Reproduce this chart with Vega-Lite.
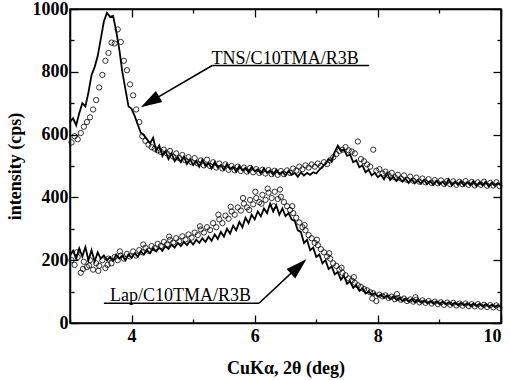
{
  "$schema": "https://vega.github.io/schema/vega-lite/v6.json",
  "width": 431,
  "height": 314,
  "autosize": "none",
  "padding": {"left": 70, "top": 9, "right": 9, "bottom": 57},
  "config": {
    "view": {"stroke": "black", "strokeWidth": 1.5},
    "axis": {
      "grid": false,
      "domainColor": "black",
      "domainWidth": 1.5,
      "tickColor": "black",
      "tickWidth": 1.3,
      "tickSize": -8,
      "labelColor": "black",
      "labelFont": "Liberation Serif",
      "labelFontWeight": "bold",
      "labelFontSize": 18,
      "titleColor": "black",
      "titleFont": "Liberation Serif",
      "titleFontWeight": "bold",
      "titleFontSize": 18
    }
  },
  "datasets": {
    "tnsLine": [
      {"x":3.00,"y":640},{"x":3.05,"y":652},{"x":3.10,"y":630},{"x":3.15,"y":668},{"x":3.20,"y":700},{"x":3.25,"y":690},{"x":3.30,"y":735},{"x":3.35,"y":790},{"x":3.40,"y":815},{"x":3.45,"y":850},{"x":3.50,"y":905},{"x":3.55,"y":960},{"x":3.60,"y":988},{"x":3.65,"y":975},{"x":3.70,"y":978},{"x":3.75,"y":930},{"x":3.80,"y":872},{"x":3.85,"y":800},{"x":3.90,"y":745},{"x":3.95,"y":690},
      {"x":4.00,"y":682},{"x":4.05,"y":660},{"x":4.10,"y":632},{"x":4.15,"y":606},{"x":4.20,"y":598},{"x":4.25,"y":585},{"x":4.30,"y":572},{"x":4.35,"y":590},{"x":4.40,"y":548},{"x":4.45,"y":565},{"x":4.50,"y":532},{"x":4.55,"y":548},{"x":4.60,"y":522},{"x":4.65,"y":540},{"x":4.70,"y":515},{"x":4.75,"y":528},{"x":4.80,"y":512},{"x":4.85,"y":530},{"x":4.90,"y":506},{"x":4.95,"y":522},
      {"x":5.00,"y":503},{"x":5.05,"y":516},{"x":5.10,"y":498},{"x":5.15,"y":520},{"x":5.20,"y":500},{"x":5.25,"y":510},{"x":5.30,"y":492},{"x":5.35,"y":512},{"x":5.40,"y":495},{"x":5.45,"y":503},{"x":5.50,"y":488},{"x":5.55,"y":506},{"x":5.60,"y":490},{"x":5.65,"y":498},{"x":5.70,"y":482},{"x":5.75,"y":500},{"x":5.80,"y":486},{"x":5.85,"y":494},{"x":5.90,"y":480},{"x":5.95,"y":497},
      {"x":6.00,"y":483},{"x":6.05,"y":490},{"x":6.10,"y":476},{"x":6.15,"y":492},{"x":6.20,"y":478},{"x":6.25,"y":486},{"x":6.30,"y":472},{"x":6.35,"y":488},{"x":6.40,"y":474},{"x":6.45,"y":482},{"x":6.50,"y":470},{"x":6.55,"y":485},{"x":6.60,"y":472},{"x":6.65,"y":478},{"x":6.70,"y":466},{"x":6.75,"y":480},{"x":6.80,"y":470},{"x":6.85,"y":478},{"x":6.90,"y":472},{"x":6.95,"y":480},
      {"x":7.00,"y":476},{"x":7.05,"y":488},{"x":7.10,"y":498},{"x":7.15,"y":506},{"x":7.20,"y":522},{"x":7.25,"y":515},{"x":7.30,"y":545},{"x":7.35,"y":565},{"x":7.40,"y":548},{"x":7.45,"y":552},{"x":7.50,"y":532},{"x":7.55,"y":536},{"x":7.60,"y":512},{"x":7.65,"y":518},{"x":7.70,"y":496},{"x":7.75,"y":502},{"x":7.80,"y":480},{"x":7.85,"y":488},{"x":7.90,"y":470},{"x":7.95,"y":478},
      {"x":8.00,"y":464},{"x":8.05,"y":472},{"x":8.10,"y":458},{"x":8.15,"y":478},{"x":8.20,"y":455},{"x":8.25,"y":466},{"x":8.30,"y":452},{"x":8.35,"y":462},{"x":8.40,"y":450},{"x":8.45,"y":460},{"x":8.50,"y":446},{"x":8.55,"y":458},{"x":8.60,"y":445},{"x":8.65,"y":455},{"x":8.70,"y":443},{"x":8.75,"y":456},{"x":8.80,"y":442},{"x":8.85,"y":452},{"x":8.90,"y":440},{"x":8.95,"y":453},
      {"x":9.00,"y":441},{"x":9.05,"y":450},{"x":9.10,"y":439},{"x":9.15,"y":458},{"x":9.20,"y":438},{"x":9.25,"y":450},{"x":9.30,"y":440},{"x":9.35,"y":452},{"x":9.40,"y":437},{"x":9.45,"y":449},{"x":9.50,"y":439},{"x":9.55,"y":451},{"x":9.60,"y":436},{"x":9.65,"y":448},{"x":9.70,"y":438},{"x":9.75,"y":450},{"x":9.80,"y":435},{"x":9.85,"y":447},{"x":9.90,"y":437},{"x":9.95,"y":446},{"x":10.00,"y":438}
    ],
    "tnsPts": [
      {"x":3.025,"y":575},{"x":3.075,"y":595},{"x":3.125,"y":585},{"x":3.175,"y":605},{"x":3.225,"y":625},{"x":3.275,"y":640},{"x":3.325,"y":655},{"x":3.375,"y":680},{"x":3.425,"y":710},{"x":3.475,"y":750},{"x":3.525,"y":790},{"x":3.575,"y":835},{"x":3.625,"y":860},{"x":3.675,"y":893},{"x":3.725,"y":890},{"x":3.775,"y":935},{"x":3.825,"y":895},{"x":3.875,"y":835},{"x":3.925,"y":805},{"x":3.975,"y":760},
      {"x":4.025,"y":725},{"x":4.075,"y":680},{"x":4.125,"y":640},{"x":4.175,"y":595},{"x":4.225,"y":580},{"x":4.275,"y":568},{"x":4.325,"y":560},{"x":4.375,"y":555},{"x":4.425,"y":550},{"x":4.475,"y":545},{"x":4.525,"y":552},{"x":4.575,"y":540},{"x":4.625,"y":548},{"x":4.675,"y":530},{"x":4.725,"y":540},{"x":4.775,"y":525},{"x":4.825,"y":535},{"x":4.875,"y":518},{"x":4.925,"y":528},{"x":4.975,"y":512},
      {"x":5.025,"y":525},{"x":5.075,"y":508},{"x":5.125,"y":518},{"x":5.175,"y":502},{"x":5.225,"y":520},{"x":5.275,"y":500},{"x":5.325,"y":512},{"x":5.375,"y":495},{"x":5.425,"y":508},{"x":5.475,"y":492},{"x":5.525,"y":505},{"x":5.575,"y":488},{"x":5.625,"y":500},{"x":5.675,"y":486},{"x":5.725,"y":498},{"x":5.775,"y":484},{"x":5.825,"y":495},{"x":5.875,"y":482},{"x":5.925,"y":494},{"x":5.975,"y":480},
      {"x":6.025,"y":490},{"x":6.075,"y":478},{"x":6.125,"y":488},{"x":6.175,"y":476},{"x":6.225,"y":487},{"x":6.275,"y":474},{"x":6.325,"y":485},{"x":6.375,"y":472},{"x":6.425,"y":484},{"x":6.475,"y":474},{"x":6.525,"y":486},{"x":6.575,"y":478},{"x":6.625,"y":492},{"x":6.675,"y":485},{"x":6.725,"y":498},{"x":6.775,"y":490},{"x":6.825,"y":502},{"x":6.875,"y":495},{"x":6.925,"y":505},{"x":6.975,"y":498},
      {"x":7.025,"y":508},{"x":7.075,"y":500},{"x":7.125,"y":512},{"x":7.175,"y":506},{"x":7.225,"y":518},{"x":7.275,"y":528},{"x":7.325,"y":538},{"x":7.375,"y":548},{"x":7.425,"y":552},{"x":7.475,"y":560},{"x":7.525,"y":550},{"x":7.575,"y":546},{"x":7.625,"y":540},{"x":7.675,"y":578},{"x":7.725,"y":522},{"x":7.775,"y":515},{"x":7.825,"y":505},{"x":7.875,"y":498},{"x":7.925,"y":552},{"x":7.975,"y":485},
      {"x":8.025,"y":490},{"x":8.075,"y":476},{"x":8.125,"y":482},{"x":8.175,"y":470},{"x":8.225,"y":478},{"x":8.275,"y":464},{"x":8.325,"y":472},{"x":8.375,"y":460},{"x":8.425,"y":470},{"x":8.475,"y":456},{"x":8.525,"y":466},{"x":8.575,"y":453},{"x":8.625,"y":463},{"x":8.675,"y":450},{"x":8.725,"y":460},{"x":8.775,"y":448},{"x":8.825,"y":458},{"x":8.875,"y":446},{"x":8.925,"y":455},{"x":8.975,"y":445},
      {"x":9.025,"y":454},{"x":9.075,"y":443},{"x":9.125,"y":452},{"x":9.175,"y":442},{"x":9.225,"y":451},{"x":9.275,"y":440},{"x":9.325,"y":450},{"x":9.375,"y":442},{"x":9.425,"y":452},{"x":9.475,"y":440},{"x":9.525,"y":449},{"x":9.575,"y":438},{"x":9.625,"y":448},{"x":9.675,"y":440},{"x":9.725,"y":450},{"x":9.775,"y":437},{"x":9.825,"y":446},{"x":9.875,"y":438},{"x":9.925,"y":448},{"x":9.975,"y":436}
    ],
    "lapLine": [
      {"x":3.00,"y":215},{"x":3.05,"y":230},{"x":3.10,"y":205},{"x":3.15,"y":238},{"x":3.20,"y":212},{"x":3.25,"y":242},{"x":3.30,"y":200},{"x":3.35,"y":232},{"x":3.40,"y":196},{"x":3.45,"y":225},{"x":3.50,"y":205},{"x":3.55,"y":215},{"x":3.60,"y":200},{"x":3.65,"y":210},{"x":3.70,"y":198},{"x":3.75,"y":218},{"x":3.80,"y":205},{"x":3.85,"y":215},{"x":3.90,"y":200},{"x":3.95,"y":218},
      {"x":4.00,"y":208},{"x":4.05,"y":222},{"x":4.10,"y":212},{"x":4.15,"y":228},{"x":4.20,"y":218},{"x":4.25,"y":232},{"x":4.30,"y":222},{"x":4.35,"y":238},{"x":4.40,"y":228},{"x":4.45,"y":240},{"x":4.50,"y":230},{"x":4.55,"y":245},{"x":4.60,"y":236},{"x":4.65,"y":250},{"x":4.70,"y":240},{"x":4.75,"y":255},{"x":4.80,"y":245},{"x":4.85,"y":258},{"x":4.90,"y":248},{"x":4.95,"y":262},
      {"x":5.00,"y":250},{"x":5.05,"y":265},{"x":5.10,"y":255},{"x":5.15,"y":270},{"x":5.20,"y":258},{"x":5.25,"y":275},{"x":5.30,"y":262},{"x":5.35,"y":282},{"x":5.40,"y":268},{"x":5.45,"y":290},{"x":5.50,"y":275},{"x":5.55,"y":300},{"x":5.60,"y":285},{"x":5.65,"y":310},{"x":5.70,"y":295},{"x":5.75,"y":322},{"x":5.80,"y":305},{"x":5.85,"y":335},{"x":5.90,"y":318},{"x":5.95,"y":345},
      {"x":6.00,"y":330},{"x":6.05,"y":355},{"x":6.10,"y":340},{"x":6.15,"y":365},{"x":6.20,"y":350},{"x":6.25,"y":380},{"x":6.30,"y":355},{"x":6.35,"y":375},{"x":6.40,"y":345},{"x":6.45,"y":365},{"x":6.50,"y":340},{"x":6.55,"y":350},{"x":6.60,"y":330},{"x":6.65,"y":325},{"x":6.70,"y":295},{"x":6.75,"y":290},{"x":6.80,"y":255},{"x":6.85,"y":265},{"x":6.90,"y":232},{"x":6.95,"y":240},
      {"x":7.00,"y":210},{"x":7.05,"y":218},{"x":7.10,"y":190},{"x":7.15,"y":200},{"x":7.20,"y":172},{"x":7.25,"y":180},{"x":7.30,"y":155},{"x":7.35,"y":162},{"x":7.40,"y":138},{"x":7.45,"y":150},{"x":7.50,"y":125},{"x":7.55,"y":132},{"x":7.60,"y":112},{"x":7.65,"y":120},{"x":7.70,"y":102},{"x":7.75,"y":110},{"x":7.80,"y":94},{"x":7.85,"y":100},{"x":7.90,"y":90},{"x":7.95,"y":95},
      {"x":8.00,"y":84},{"x":8.05,"y":90},{"x":8.10,"y":80},{"x":8.15,"y":88},{"x":8.20,"y":76},{"x":8.25,"y":85},{"x":8.30,"y":74},{"x":8.35,"y":80},{"x":8.40,"y":70},{"x":8.45,"y":78},{"x":8.50,"y":68},{"x":8.55,"y":76},{"x":8.60,"y":66},{"x":8.65,"y":74},{"x":8.70,"y":65},{"x":8.75,"y":72},{"x":8.80,"y":63},{"x":8.85,"y":70},{"x":8.90,"y":62},{"x":8.95,"y":69},
      {"x":9.00,"y":60},{"x":9.05,"y":68},{"x":9.10,"y":60},{"x":9.15,"y":66},{"x":9.20,"y":58},{"x":9.25,"y":65},{"x":9.30,"y":57},{"x":9.35,"y":64},{"x":9.40,"y":56},{"x":9.45,"y":63},{"x":9.50,"y":55},{"x":9.55,"y":62},{"x":9.60,"y":54},{"x":9.65,"y":61},{"x":9.70,"y":53},{"x":9.75,"y":60},{"x":9.80,"y":52},{"x":9.85,"y":58},{"x":9.90,"y":51},{"x":9.95,"y":57},{"x":10.00,"y":50}
    ],
    "lapPts": [
      {"x":3.025,"y":200},{"x":3.075,"y":185},{"x":3.125,"y":210},{"x":3.175,"y":160},{"x":3.225,"y":195},{"x":3.275,"y":178},{"x":3.325,"y":200},{"x":3.375,"y":170},{"x":3.425,"y":190},{"x":3.475,"y":182},{"x":3.525,"y":200},{"x":3.575,"y":175},{"x":3.625,"y":205},{"x":3.675,"y":190},{"x":3.725,"y":210},{"x":3.775,"y":200},{"x":3.825,"y":215},{"x":3.875,"y":205},{"x":3.925,"y":220},{"x":3.975,"y":212},
      {"x":4.025,"y":228},{"x":4.075,"y":215},{"x":4.125,"y":232},{"x":4.175,"y":225},{"x":4.225,"y":240},{"x":4.275,"y":230},{"x":4.325,"y":245},{"x":4.375,"y":238},{"x":4.425,"y":252},{"x":4.475,"y":245},{"x":4.525,"y":258},{"x":4.575,"y":250},{"x":4.625,"y":265},{"x":4.675,"y":256},{"x":4.725,"y":270},{"x":4.775,"y":260},{"x":4.825,"y":276},{"x":4.875,"y":266},{"x":4.925,"y":282},{"x":4.975,"y":272},
      {"x":5.025,"y":288},{"x":5.075,"y":280},{"x":5.125,"y":298},{"x":5.175,"y":288},{"x":5.225,"y":305},{"x":5.275,"y":296},{"x":5.325,"y":318},{"x":5.375,"y":305},{"x":5.425,"y":330},{"x":5.475,"y":318},{"x":5.525,"y":342},{"x":5.575,"y":332},{"x":5.625,"y":355},{"x":5.675,"y":345},{"x":5.725,"y":368},{"x":5.775,"y":358},{"x":5.825,"y":380},{"x":5.875,"y":368},{"x":5.925,"y":392},{"x":5.975,"y":378},
      {"x":6.025,"y":398},{"x":6.075,"y":385},{"x":6.125,"y":408},{"x":6.175,"y":392},{"x":6.225,"y":415},{"x":6.275,"y":398},{"x":6.325,"y":418},{"x":6.375,"y":395},{"x":6.425,"y":402},{"x":6.475,"y":385},{"x":6.525,"y":372},{"x":6.575,"y":360},{"x":6.625,"y":350},{"x":6.675,"y":335},{"x":6.725,"y":320},{"x":6.775,"y":305},{"x":6.825,"y":295},{"x":6.875,"y":280},{"x":6.925,"y":270},{"x":6.975,"y":255},
      {"x":7.025,"y":248},{"x":7.075,"y":235},{"x":7.125,"y":225},{"x":7.175,"y":212},{"x":7.225,"y":205},{"x":7.275,"y":190},{"x":7.325,"y":182},{"x":7.375,"y":170},{"x":7.425,"y":160},{"x":7.475,"y":152},{"x":7.525,"y":142},{"x":7.575,"y":135},{"x":7.625,"y":128},{"x":7.675,"y":120},{"x":7.725,"y":115},{"x":7.775,"y":108},{"x":7.825,"y":104},{"x":7.875,"y":98},{"x":7.925,"y":95},{"x":7.975,"y":70},
      {"x":8.025,"y":90},{"x":8.075,"y":85},{"x":8.125,"y":88},{"x":8.175,"y":80},{"x":8.225,"y":84},{"x":8.275,"y":76},{"x":8.325,"y":80},{"x":8.375,"y":74},{"x":8.425,"y":78},{"x":8.475,"y":70},{"x":8.525,"y":75},{"x":8.575,"y":68},{"x":8.625,"y":74},{"x":8.675,"y":66},{"x":8.725,"y":72},{"x":8.775,"y":64},{"x":8.825,"y":70},{"x":8.875,"y":62},{"x":8.925,"y":68},{"x":8.975,"y":60},
      {"x":9.025,"y":66},{"x":9.075,"y":58},{"x":9.125,"y":65},{"x":9.175,"y":58},{"x":9.225,"y":64},{"x":9.275,"y":56},{"x":9.325,"y":62},{"x":9.375,"y":55},{"x":9.425,"y":62},{"x":9.475,"y":54},{"x":9.525,"y":60},{"x":9.575,"y":53},{"x":9.625,"y":60},{"x":9.675,"y":52},{"x":9.725,"y":58},{"x":9.775,"y":51},{"x":9.825,"y":57},{"x":9.875,"y":50},{"x":9.925,"y":56},{"x":9.975,"y":48},
      {"x":3.11,"y":225},{"x":3.21,"y":172},{"x":3.31,"y":183},{"x":3.46,"y":166},{"x":3.61,"y":185},{"x":3.81,"y":228},{"x":4.19,"y":250},{"x":4.61,"y":275},{"x":5.11,"y":308},{"x":5.41,"y":345},{"x":5.61,"y":370},{"x":5.81,"y":398},{"x":5.91,"y":360},{"x":6.01,"y":418},{"x":6.11,"y":380},{"x":6.21,"y":428},{"x":6.31,"y":372},{"x":6.41,"y":425},{"x":6.61,"y":372},{"x":6.81,"y":312},{"x":7.01,"y":265},{"x":7.21,"y":222},{"x":7.41,"y":176},{"x":7.61,"y":146},{"x":7.91,"y":78},{"x":8.31,"y":92},{"x":8.61,"y":82}
    ],
    "segs": [
      {"x":5.31,"y":820,"x2":7.86,"y2":820},
      {"x":5.31,"y":820,"x2":4.2,"y2":693},
      {"x":3.55,"y":63,"x2":6.07,"y2":63},
      {"x":6.07,"y":63,"x2":6.8,"y2":197}
    ],
    "labels": [
      {"x":5.3,"y":826,"label":"TNS/C10TMA/R3B"},
      {"x":3.65,"y":70,"label":"Lap/C10TMA/R3B"}
    ]
  },
  "resolve": {"axis": {"x": "independent", "y": "independent"}},
  "layer": [
    {
      "data": {"name": "tnsPts"},
      "mark": {"type": "point", "shape": "circle", "filled": false, "stroke": "black", "strokeWidth": 0.8, "size": 28, "opacity": 1},
      "encoding": {
        "x": {"field": "x", "type": "quantitative", "scale": {"domain": [3, 10], "nice": false, "zero": false},
          "axis": {"values": [3,4,5,6,7,8,9,10], "labelExpr": "datum.value % 2 === 0 ? datum.label : ''",
            "tickDash": {"condition": {"test": "datum.value % 2 !== 0", "value": [4, 30]}, "value": [30, 0]},
            "labelPadding": 12, "title": "CuKα, 2θ (deg)", "titlePadding": 14}},
        "y": {"field": "y", "type": "quantitative", "scale": {"domain": [0, 1000], "nice": false},
          "axis": {"values": [0,100,200,300,400,500,600,700,800,900,1000], "format": "d", "labelExpr": "datum.value % 200 === 0 ? datum.label : ''",
            "tickDash": {"condition": {"test": "datum.value % 200 !== 0", "value": [4, 30]}, "value": [30, 0]},
            "labelPadding": 10, "title": "intensity (cps)", "titlePadding": 8}}
      }
    },
    {
      "data": {"name": "lapPts"},
      "mark": {"type": "point", "shape": "circle", "filled": false, "stroke": "black", "strokeWidth": 0.8, "size": 28, "opacity": 1},
      "encoding": {
        "x": {"field": "x", "type": "quantitative",
          "axis": {"orient": "top", "values": [3,4,5,6,7,8,9,10], "labels": false, "title": null,
            "tickDash": {"condition": {"test": "datum.value % 2 !== 0", "value": [4, 30]}, "value": [30, 0]}}},
        "y": {"field": "y", "type": "quantitative",
          "axis": {"orient": "right", "values": [0,100,200,300,400,500,600,700,800,900,1000], "labels": false, "title": null,
            "tickDash": {"condition": {"test": "datum.value % 200 !== 0", "value": [4, 30]}, "value": [30, 0]}}}
      }
    },
    {
      "data": {"name": "tnsLine"},
      "mark": {"type": "line", "color": "black", "strokeWidth": 1.8},
      "encoding": {
        "x": {"field": "x", "type": "quantitative", "axis": null},
        "y": {"field": "y", "type": "quantitative", "axis": null}
      }
    },
    {
      "data": {"name": "lapLine"},
      "mark": {"type": "line", "color": "black", "strokeWidth": 1.8},
      "encoding": {
        "x": {"field": "x", "type": "quantitative", "axis": null},
        "y": {"field": "y", "type": "quantitative", "axis": null}
      }
    },
    {
      "data": {"name": "segs"},
      "mark": {"type": "rule", "color": "black", "strokeWidth": 1.6},
      "encoding": {
        "x": {"field": "x", "type": "quantitative", "axis": null},
        "y": {"field": "y", "type": "quantitative", "axis": null},
        "x2": {"field": "x2"},
        "y2": {"field": "y2"}
      }
    },
    {
      "data": {"values": [{"x": 4.15, "y": 687}]},
      "mark": {"type": "point", "shape": "M0,0L0.3,1L-0.3,1Z", "filled": true, "color": "black", "opacity": 1, "size": 1800, "angle": 239.5},
      "encoding": {
        "x": {"field": "x", "type": "quantitative", "axis": null},
        "y": {"field": "y", "type": "quantitative", "axis": null}
      }
    },
    {
      "data": {"values": [{"x": 6.84, "y": 203}]},
      "mark": {"type": "point", "shape": "M0,0L0.3,1L-0.3,1Z", "filled": true, "color": "black", "opacity": 1, "size": 1800, "angle": 47},
      "encoding": {
        "x": {"field": "x", "type": "quantitative", "axis": null},
        "y": {"field": "y", "type": "quantitative", "axis": null}
      }
    },
    {
      "data": {"name": "labels"},
      "mark": {"type": "text", "font": "Liberation Serif", "fontSize": 18, "color": "black", "align": "left", "baseline": "alphabetic"},
      "encoding": {
        "x": {"field": "x", "type": "quantitative", "axis": null},
        "y": {"field": "y", "type": "quantitative", "axis": null},
        "text": {"field": "label"}
      }
    }
  ]
}
